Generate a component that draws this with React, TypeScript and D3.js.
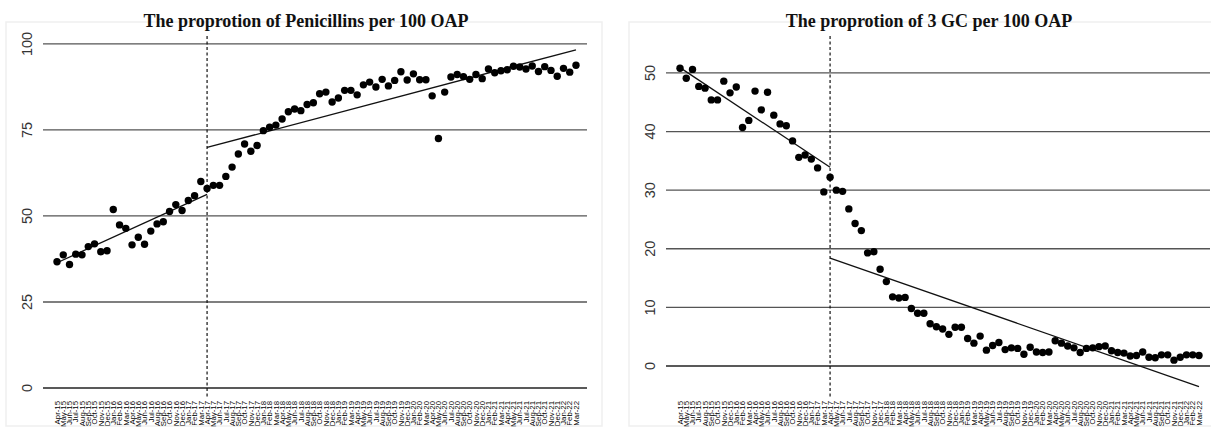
import React from "react";
import * as d3 from "d3";

const monthNames = ["Jan","Feb","Mar","Apr","May","Jun","Jul","Aug","Sep","Oct","Nov","Dec"];
// Apr-15 .. Mar-22 (84 months)
const months: string[] = [];
for (let k = 0; k < 84; k++) {
  const m = (3 + k) % 12;
  const y = 15 + Math.floor((3 + k) / 12);
  months.push(`${monthNames[m]}-${y}`);
}

const penicillins = [
  36.7, 38.7, 35.9, 38.9, 38.7, 41.1, 41.9, 39.6, 39.9, 51.9,
  47.4, 46.4, 41.6, 43.8, 41.8, 45.6, 47.7, 48.3, 51.3, 53.3,
  51.6, 54.5, 55.9, 60.0, 58.0, 58.9, 58.9, 61.5, 64.2, 68.0,
  70.9, 68.8, 70.5, 74.8, 75.8, 76.4, 78.2, 80.3, 81.1, 80.6,
  82.4, 82.9, 85.5, 86.0, 83.1, 84.3, 86.5, 86.5, 85.2, 88.1,
  88.9, 87.5, 89.7, 87.8, 89.4, 91.9, 89.5, 91.3, 89.6, 89.6,
  84.9, 72.5, 86.0, 90.4, 91.1, 90.5, 89.7, 91.1, 89.9, 92.7,
  91.6, 92.2, 92.5, 93.5, 93.3, 92.7, 93.6, 92.0, 93.4, 92.3,
  90.6, 92.9, 91.8, 93.8,
];

const gc3 = [
  50.8, 49.1, 50.6, 47.7, 47.4, 45.4, 45.4, 48.6, 46.6, 47.6,
  40.7, 41.9, 46.9, 43.7, 46.7, 42.8, 41.3, 41.0, 38.4, 35.6,
  36.0, 35.3, 33.8, 29.7, 32.2, 30.0, 29.8, 26.8, 24.3, 23.1,
  19.3, 19.5, 16.5, 14.4, 11.8, 11.6, 11.7, 9.8, 9.0, 9.0,
  7.2, 6.7, 6.3, 5.4, 6.6, 6.6, 4.7, 3.9, 5.1, 2.7,
  3.5, 4.0, 2.8, 3.1, 3.0, 2.0, 3.2, 2.4, 2.3, 2.4,
  4.3, 3.9, 3.4, 3.1, 2.3, 3.0, 3.1, 3.3, 3.4, 2.6,
  2.3, 2.2, 1.7, 1.8, 2.4, 1.5, 1.4, 1.9, 1.9, 1.0,
  1.5, 1.9, 1.9, 1.8,
];

const interventionIndex = 24;
// fitted segments: [startIndex, startValue, endIndex, endValue]
const penTrend = [
  [0, 36.4, 24, 56.3],
  [24, 69.9, 83, 98.3],
];
const gcTrend = [
  [0, 50.9, 24, 33.9],
  [24, 18.4, 83, -3.5],
];
const penTicks = [0, 25, 50, 75, 100];
const gcTicks = [0, 10, 20, 30, 40, 50];

type PanelProps = {
  x0: number;
  title: string;
  data: number[];
  trend: number[][];
  ticks: number[];
  yDomain: [number, number];
};

function Panel({ x0, title, data, trend, ticks, yDomain }: PanelProps) {
  const plotLeft = x0 + 43;
  const plotRight = x0 + 587;
  const top = 36;
  const bottom = 398;
  const x = d3.scaleLinear().domain([-2.24, 84.76]).range([plotLeft, plotRight]);
  const y = d3.scaleLinear().domain(yDomain).range([bottom, top]);
  const line = d3.line<number[]>().x((d) => x(d[0])).y((d) => y(d[1]));
  return (
    <g>
      <rect x={x0 + 6} y={22} width={596} height={404} fill="none" stroke="#efefef" strokeWidth={1.5} />
      <text x={x0 + 306} y={27} textAnchor="middle" fontFamily="'Liberation Serif', 'Times New Roman', serif" fontWeight="bold" fontSize={18} fill="#111">
        {title}
      </text>
      {ticks.map((t) => (
        <g key={t}>
          <line x1={plotLeft} x2={plotRight} y1={y(t)} y2={y(t)} stroke={t === 0 ? "#222" : "#555"} strokeWidth={1.3} />
          <text transform={`translate(${plotLeft - 11},${y(t)}) rotate(-90)`} textAnchor="middle" fontFamily="'Liberation Sans', Arial, sans-serif" fontSize={14.5} fill="#333">
            {t}
          </text>
        </g>
      ))}
      <line x1={x(interventionIndex)} x2={x(interventionIndex)} y1={top} y2={bottom} stroke="#111" strokeWidth={1.2} strokeDasharray="3,2.5" />
      {trend.map((s, i) => (
        <path key={i} d={line([[s[0], s[1]], [s[2], s[3]]]) || ""} stroke="#111" strokeWidth={1.3} fill="none" />
      ))}
      {data.map((v, i) => (
        <circle key={i} cx={x(i)} cy={y(v)} r={3.7} fill="#000" />
      ))}
      {months.map((m, i) => (
        <text key={m} transform={`translate(${x(i)},401) rotate(-90)`} textAnchor="end" dy="0.35em" fontFamily="'Liberation Sans', Arial, sans-serif" fontSize={7.8} fill="#000">
          {m}
        </text>
      ))}
    </g>
  );
}

export default function App() {
  return (
    <svg width={1211} height={430} style={{ position: "absolute", left: 0, top: 0, background: "#fff" }}>
      <rect width={1211} height={430} fill="#fff" />
      <Panel x0={0} title="The proprotion of Penicillins per 100 OAP" data={penicillins} trend={penTrend} ticks={penTicks} yDomain={[-2.9, 102.3]} />
      <Panel x0={623} title="The proprotion of 3 GC per 100 OAP" data={gc3} trend={gcTrend} ticks={gcTicks} yDomain={[-5.46, 56.3]} />
    </svg>
  );
}
